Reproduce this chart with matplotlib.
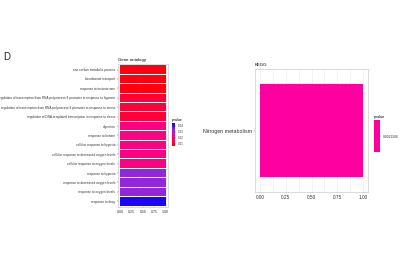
import matplotlib
matplotlib.use("Agg")
import matplotlib.pyplot as plt
import numpy as np
from matplotlib.colors import LinearSegmentedColormap, Normalize
from matplotlib.colorbar import ColorbarBase

plt.rcParams["font.family"] = ["Liberation Sans", "DejaVu Sans"]

# data
go_terms = [
    "one-carbon metabolic process",
    "bicarbonate transport",
    "response to testosterone",
    "regulation of transcription from RNA polymerase II promoter in response to hypoxia",
    "regulation of transcription from RNA polymerase II promoter in response to stress",
    "regulation of DNA-templated transcription in response to stress",
    "digestion",
    "response to ketone",
    "cellular response to hypoxia",
    "cellular response to decreased oxygen levels",
    "cellular response to oxygen levels",
    "response to hypoxia",
    "response to decreased oxygen levels",
    "response to oxygen levels",
    "response to drug",
]
go_ratio = [1.0] * 15
go_pvalue = [0.008, 0.008, 0.008, 0.013, 0.013, 0.013, 0.022, 0.022, 0.022,
             0.022, 0.022, 0.034, 0.034, 0.034, 0.043]
go_ticks = [0.04, 0.03, 0.02, 0.01]

kegg_terms = ["Nitrogen metabolism"]
kegg_ratio = [1.0]
kegg_pvalue = [0.0021506]

cmap = LinearSegmentedColormap.from_list(
    "pv", [(0, "#ff0000"), (0.4, "#ff0080"), (0.7, "#9a28d8"), (1, "#0000ff")])
go_norm = Normalize(0.006, 0.045)

fig = plt.figure(figsize=(4, 2.65), dpi=100)
fig.text(0.008, 0.785, "D", fontsize=7, color="#222222", va="center")

fs = 2.6


def style_ax(ax, title):
    ax.set_xlim(-0.05, 1.05)
    ax.set_xticks([0, 0.25, 0.5, 0.75, 1.0])
    ax.set_xticklabels(["0.00", "0.25", "0.50", "0.75", "1.00"], fontsize=fs)
    ax.set_xticks([0.125, 0.375, 0.625, 0.875], minor=True)
    ax.tick_params(axis="both", length=1, width=0.3, pad=1, colors="#333333",
                   labelsize=fs)
    ax.tick_params(which="minor", length=0)
    ax.grid(True, axis="x", which="both", color="#ebebeb", lw=0.4)
    ax.set_axisbelow(True)
    for s in ax.spines.values():
        s.set_color("#cccccc")
        s.set_linewidth(0.5)
    ax.set_title(title, fontsize=3.2, loc="left", pad=2)


# Gene ontology panel
ax1 = fig.add_axes([0.295, 0.219, 0.125, 0.54])
y = np.arange(len(go_terms))[::-1]
ax1.barh(y, go_ratio, height=0.9, color=cmap(go_norm(go_pvalue)))
ax1.set_yticks(y)
ax1.set_yticklabels(go_terms)
ax1.set_ylim(-0.6, len(go_terms) - 0.4)
style_ax(ax1, "Gene ontology")
ax1.tick_params(axis="y", labelsize=2.25)

cax1 = fig.add_axes([0.43, 0.449, 0.008, 0.087])
cb1 = ColorbarBase(cax1, cmap=cmap, norm=go_norm)
cb1.set_ticks(go_ticks)
cb1.set_ticklabels([f"{t:.2f}" for t in go_ticks])
cb1.outline.set_visible(False)
cax1.tick_params(labelsize=2.2, length=0.8, width=0.3, pad=1, colors="#333333")
cax1.set_title("pvalue", fontsize=2.6, loc="left", pad=1.5)

# KEGG panel
ax2 = fig.add_axes([0.6375, 0.2755, 0.2825, 0.464])
y2 = np.arange(len(kegg_terms))
ax2.barh(y2, kegg_ratio, height=0.9, color="#ff00a0")
ax2.set_yticks(y2)
ax2.set_yticklabels(kegg_terms)
ax2.set_ylim(-0.6, 0.6)
style_ax(ax2, "KEGG")
ax2.tick_params(labelsize=3.4)
ax2.tick_params(axis="y", labelsize=3.8)

cax2 = fig.add_axes([0.935, 0.426, 0.015, 0.121])
cax2.add_patch(plt.Rectangle((0, 0), 1, 1, color="#ff00a0"))
cax2.set_xlim(0, 1)
cax2.set_ylim(0, 1)
cax2.set_xticks([])
cax2.yaxis.tick_right()
cax2.set_yticks([0.5])
cax2.set_yticklabels([f"{kegg_pvalue[0]:.7f}"])
cax2.tick_params(labelsize=2.4, length=0.8, width=0.3, pad=1, colors="#333333")
for s in cax2.spines.values():
    s.set_visible(False)
cax2.set_title("pvalue", fontsize=2.8, loc="left", pad=1.5)

fig.savefig("out.png", dpi=100)
